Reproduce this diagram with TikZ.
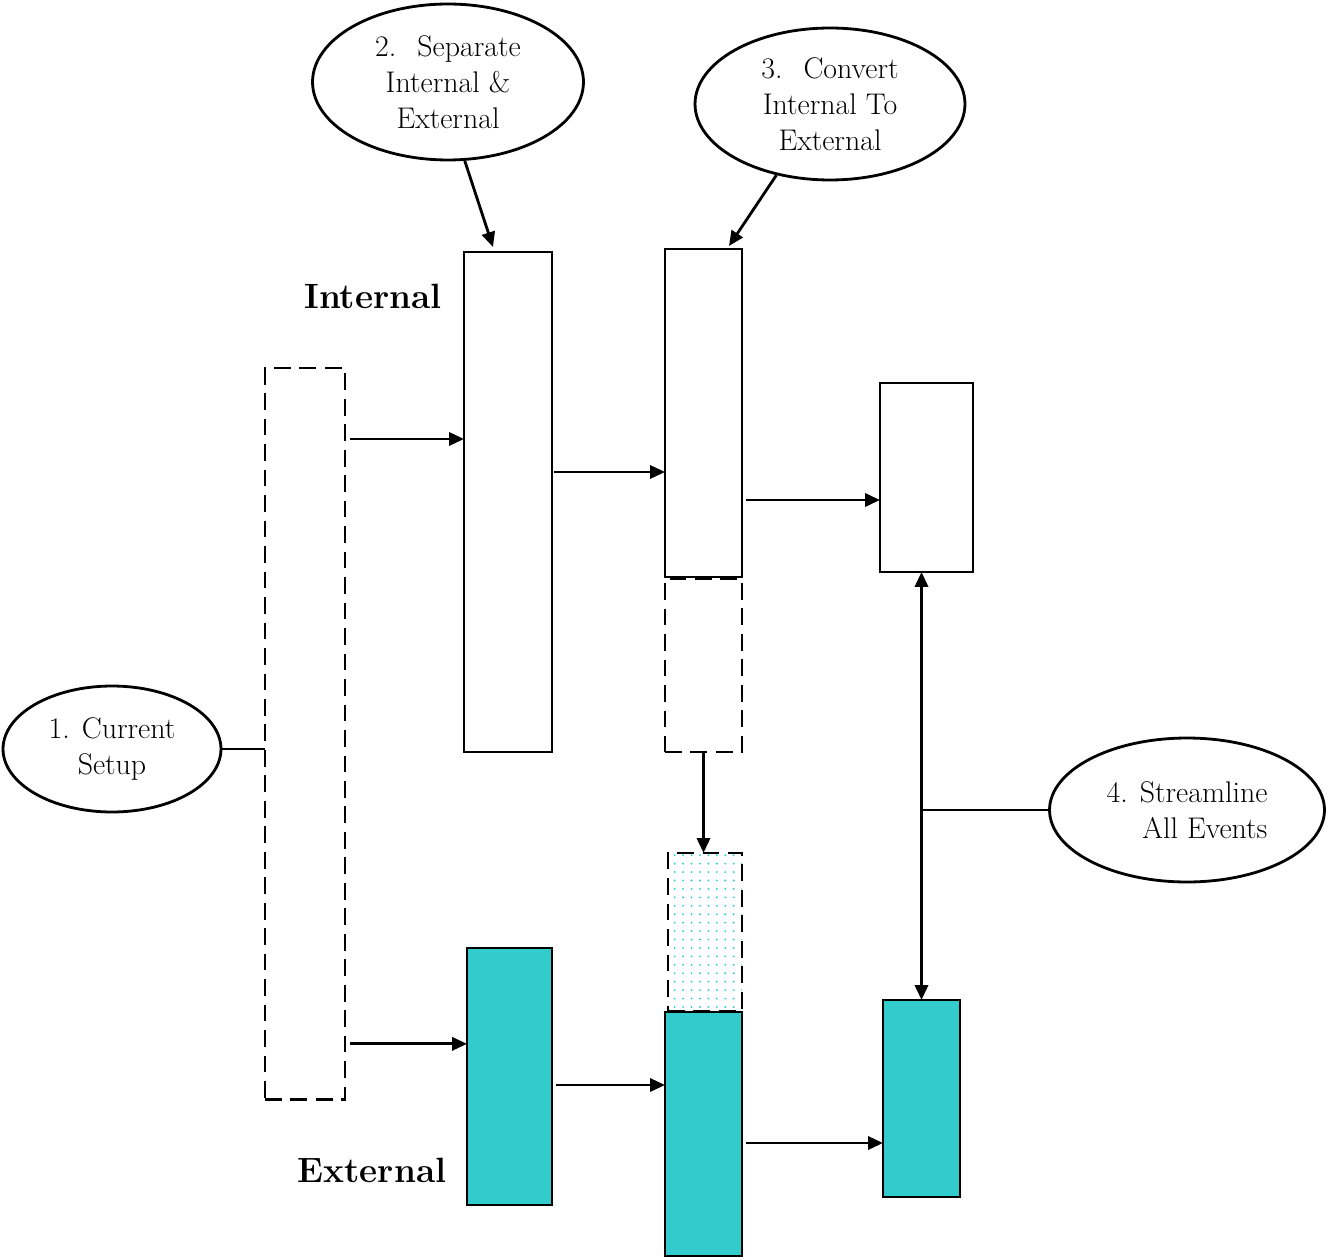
\documentclass[tikz,border=0pt]{standalone}
\usepackage{tikz}
\usetikzlibrary{shapes.geometric,arrows.meta,patterns.meta}
\definecolor{extfill}{RGB}{51,204,204}

\begin{document}
\begin{tikzpicture}[x=0.02cm,y=-0.02cm,line width=1.6pt,
    box/.style={draw, rectangle, anchor=north west, inner sep=0pt, outer sep=0pt},
    dbox/.style={box, dash pattern=on 9.5pt off 5pt},
    ebox/.style={box, fill=extfill},
    bubble/.style={draw, ellipse, inner sep=0pt, align=center, font=\fontsize{17}{20.5}\selectfont},
    arr/.style={-{Triangle[length=8.5pt,width=7.5pt]}},
    side/.style={font=\fontsize{20}{24}\selectfont\bfseries}]
    \useasboundingbox (0,0) rectangle (1328,1260);

    % the setups, one column per step
    \node[dbox, minimum width=1.6cm, minimum height=14.64cm] (cur) at (265,368) {};
    \node[box, minimum width=1.76cm, minimum height=10cm] (int1) at (464,252) {};
    \node[ebox, minimum width=1.7cm, minimum height=5.14cm] (ext1) at (467,948) {};
    \node[box, minimum width=1.54cm, minimum height=6.56cm] (int2) at (665,249) {};
    \node[dbox, minimum width=1.54cm, minimum height=3.46cm] (mid) at (665,579) {};
    \node[dbox, minimum width=1.48cm, minimum height=3.16cm,
          pattern={Dots[radius=0.6pt,distance=4.8pt]}, pattern color=extfill] (conv) at (668,853) {};
    \node[ebox, minimum width=1.54cm, minimum height=4.88cm] (ext2) at (665,1012) {};
    \node[box, minimum width=1.86cm, minimum height=3.78cm] (int3) at (880,383) {};
    \node[ebox, minimum width=1.54cm, minimum height=3.94cm] (ext3) at (883,1000) {};

    \node[side] (intlbl) at (373,296) {Internal};
    \node[side] (extlbl) at (372,1170) {External};

    % the steps
    \node[bubble, minimum width=4.36cm, minimum height=2.52cm] (e1) at (112,749) {1. Current\\Setup};
    \node[bubble, minimum width=5.42cm, minimum height=3.12cm] (e2) at (448,82) {2.~ Separate\\Internal \&\\External};
    \node[bubble, minimum width=5.4cm, minimum height=3.04cm] (e3) at (830,104) {3.~ Convert\\Internal To\\External};
    \node[bubble, minimum width=5.5cm, minimum height=2.88cm, align=right] (e4) at (1187,810) {4. Streamline\\All Events};

    % connectors
    \draw (e1.east) -- (e1.east -| cur.west);
    \draw[arr] ([shift={(5,71)}]cur.north east) coordinate (c1) -- (c1 -| int1.west);
    \draw[arr] ([shift={(5,-56)}]cur.south east) coordinate (c2) -- (c2 -| ext1.west);
    \draw[arr] ([shift={(2,220)}]int1.north east) coordinate (c3) -- (c3 -| int2.west);
    \draw[arr] ([shift={(4,137)}]ext1.north east) coordinate (c4) -- (c4 -| ext2.west);
    \draw[arr] ([shift={(4,251)}]int2.north east) coordinate (c5) -- (c5 -| int3.west);
    \draw[arr] ([shift={(4,131)}]ext2.north east) coordinate (c6) -- (c6 -| ext3.west);
    \draw[arr] (mid.south) -- (mid.south |- conv.north);
    \draw[{Triangle[length=8.5pt,width=7.5pt]}-{Triangle[length=8.5pt,width=7.5pt]}]
        (ext3.north |- int3.south) -- (ext3.north);
    \draw (e4.west) -- (e4.west -| ext3.north);
    \draw[arr] (e2.-78) -- ([shift={(29,-5)}]int1.north west);
    \draw[arr] (e3.-127) -- ([shift={(64,-3)}]int2.north west);
\end{tikzpicture}
\end{document}
